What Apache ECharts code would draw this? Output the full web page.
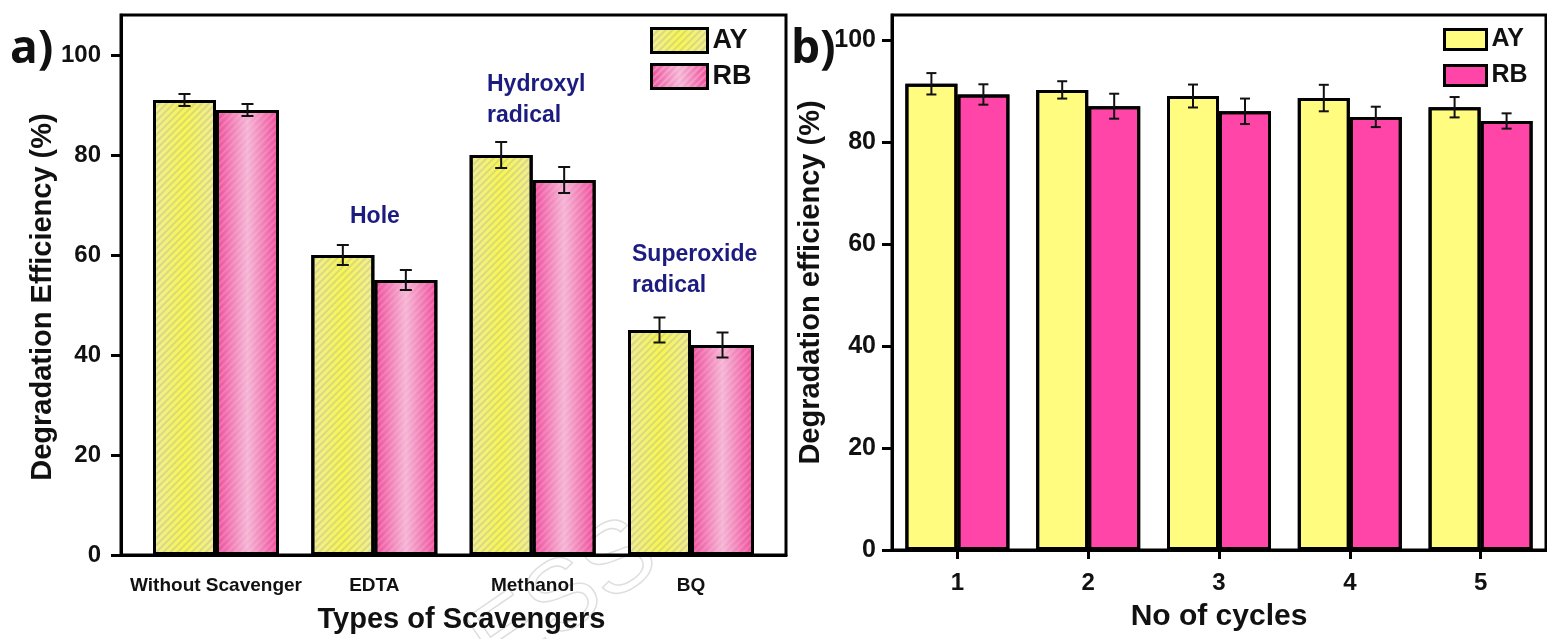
<!DOCTYPE html>
<html>
<head>
<meta charset="utf-8">
<script src="https://cdn.jsdelivr.net/npm/echarts@6/dist/echarts.min.js"></script>
<style>
  html, body {margin: 0; padding: 0; background: #fff;}
  #main {width: 1547px; height: 639px;}
</style>
</head>
<body>
<div id="main"></div>
<script>
// panel a: scavengers
const scavengers = ['Without Scavenger', 'EDTA', 'Methanol', 'BQ'];
const scavPos = [1, 2, 3, 4];
const ayScav = [91, 60, 80, 45];
const ayScavErr = [1.2, 2, 2.6, 2.5];
const rbScav = [89, 55, 75, 42];
const rbScavErr = [1.2, 2, 2.6, 2.5];
// panel b: cycles
const cycles = ['1', '2', '3', '4', '5'];
const ayCycle = [91.5, 90.3, 89.1, 88.7, 86.9];
const ayCycleErr = [2.1, 1.7, 2.25, 2.6, 2.0];
const rbCycle = [89.4, 87.1, 86.1, 85.0, 84.2];
const rbCycleErr = [2.0, 2.45, 2.5, 2.0, 1.5];
const yTicks = [0, 20, 40, 60, 80, 100];

const FONT = 'Liberation Sans';

const ayFillA = {
  type: 'linear', x: 0, y: 0, x2: 1, y2: 0,
  colorStops: [
    {offset: 0, color: '#f1ee96'},
    {offset: 0.5, color: '#f8f650'},
    {offset: 1, color: '#f1ee96'}
  ]
};
const rbFillA = {
  type: 'linear', x: 0, y: 0, x2: 1, y2: 0,
  colorStops: [
    {offset: 0, color: '#ee4a9a'},
    {offset: 0.5, color: '#f5b4d4'},
    {offset: 1, color: '#ee4a9a'}
  ]
};
const ayDecal = {
  symbol: 'rect', dashArrayX: [1, 0], dashArrayY: [2, 3],
  rotation: -Math.PI / 4, color: 'rgba(170,170,150,0.35)'
};
const rbDecal = {
  symbol: 'rect', dashArrayX: [1, 0], dashArrayY: [2, 3],
  rotation: -Math.PI / 4, color: 'rgba(255,230,240,0.3)'
};
const noDecal = {symbol: 'rect', color: 'rgba(0,0,0,0)'};
const ayFillB = '#fffc7f';
const rbFillB = '#ff46a8';

function errRender(offset, cap) {
  return function (params, api) {
    const x = api.value(0), v = api.value(1), e = api.value(2);
    const t = api.coord([x, v + e]);
    const b = api.coord([x, v - e]);
    const cx = t[0] + offset;
    const st = {stroke: '#111', lineWidth: 2};
    return {
      type: 'group',
      children: [
        {type: 'line', shape: {x1: cx, y1: t[1], x2: cx, y2: b[1]}, style: st},
        {type: 'line', shape: {x1: cx - cap, y1: t[1], x2: cx + cap, y2: t[1]}, style: st},
        {type: 'line', shape: {x1: cx - cap, y1: b[1], x2: cx + cap, y2: b[1]}, style: st}
      ]
    };
  };
}

const axisLine = {show: true, lineStyle: {color: '#000', width: 3}};
const tickStyle = {show: true, inside: false, length: 10, lineStyle: {color: '#000', width: 3}};
const nameStyle = {fontFamily: FONT, fontWeight: 'bold', fontSize: 29, color: '#111'};
const annot = 'bold 23px "Liberation Sans"';

const chart = echarts.init(document.getElementById('main'));
chart.setOption({
  backgroundColor: '#fff',
  animation: false,
  aria: {enabled: true, decal: {show: true}},
  grid: [
    {left: 121, right: 761, top: 15, bottom: 82, show: true, borderColor: '#000', borderWidth: 3},
    {left: 892, right: 1, top: 15, bottom: 89, show: true, borderColor: '#000', borderWidth: 3}
  ],
  xAxis: [
    {
      type: 'value', gridIndex: 0, min: 0.4, max: 4.6,
      name: 'Types of Scavengers', nameLocation: 'middle', nameGap: 50,
      nameTextStyle: Object.assign({padding: [0, 0, 0, 16]}, nameStyle),
      axisLine: axisLine, axisTick: {show: false}, splitLine: {show: false},
      axisLabel: {
        customValues: scavPos, margin: 21,
        fontFamily: FONT, fontWeight: 'bold', fontSize: 19, color: '#111',
        formatter: v => scavengers[Math.round(v) - 1] || ''
      }
    },
    {
      type: 'category', gridIndex: 1, data: cycles,
      name: 'No of cycles', nameLocation: 'middle', nameGap: 52,
      nameTextStyle: Object.assign({}, nameStyle, {fontSize: 30}),
      axisLine: axisLine,
      axisTick: {show: true, alignWithLabel: true, length: 9, lineStyle: {color: '#000', width: 3}},
      axisLabel: {margin: 21, fontFamily: FONT, fontWeight: 'bold', fontSize: 24, color: '#111'}
    }
  ],
  yAxis: [
    {
      type: 'value', gridIndex: 0, min: 0, max: 108,
      name: 'Degradation Efficiency (%)', nameLocation: 'middle', nameGap: 57,
      nameTextStyle: Object.assign({padding: [0, 24, 0, 0]}, nameStyle),
      axisLine: axisLine, axisTick: Object.assign({customValues: yTicks}, tickStyle),
      splitLine: {show: false},
      axisLabel: {customValues: yTicks, margin: 20, fontFamily: FONT, fontWeight: 'bold', fontSize: 24, color: '#111'}
    },
    {
      type: 'value', gridIndex: 1, min: 0, max: 105,
      name: 'Degradation efficiency (%)', nameLocation: 'middle', nameGap: 67,
      nameTextStyle: nameStyle,
      axisLine: axisLine, axisTick: Object.assign({customValues: yTicks}, tickStyle),
      splitLine: {show: false},
      axisLabel: {customValues: yTicks, margin: 16, fontFamily: FONT, fontWeight: 'bold', fontSize: 25, color: '#111'}
    }
  ],
  legend: [
    {
      orient: 'vertical', left: 650, top: 27, padding: 0,
      itemWidth: 56, itemHeight: 24, itemGap: 9, icon: 'rect',
      textStyle: {fontFamily: FONT, fontWeight: 'bold', fontSize: 27, color: '#111', lineHeight: 26},
      data: [
        {name: 'AY', itemStyle: {color: ayFillA, decal: ayDecal, borderColor: '#000', borderWidth: 3}},
        {name: 'RB', itemStyle: {color: rbFillA, decal: rbDecal, borderColor: '#000', borderWidth: 3}}
      ]
    },
    {
      orient: 'vertical', left: 1443, top: 27, padding: 0,
      itemWidth: 42, itemHeight: 20, itemGap: 11, icon: 'rect',
      textStyle: {fontFamily: FONT, fontWeight: 'bold', fontSize: 25, color: '#111', lineHeight: 24},
      data: [
        {name: 'AY', itemStyle: {color: ayFillB, decal: noDecal, borderColor: '#000', borderWidth: 3}},
        {name: 'RB', itemStyle: {color: rbFillB, decal: noDecal, borderColor: '#000', borderWidth: 3}}
      ]
    }
  ],
  graphic: [
    {type: 'text', left: 10, top: 27, style: {text: 'a)', font: 'bold 46px "Open Sans"', fill: '#111'}},
    {type: 'text', left: 791, top: 27, style: {text: 'b)', font: 'bold 46px "Open Sans"', fill: '#111'}},
    {type: 'text', left: 350, top: 201, style: {text: 'Hole', font: annot, lineHeight: 31, fill: '#1c1c80'}},
    {type: 'text', left: 487, top: 69, style: {text: 'Hydroxyl\nradical', font: annot, lineHeight: 31, fill: '#1c1c80'}},
    {type: 'text', left: 632, top: 239, style: {text: 'Superoxide\nradical', font: annot, lineHeight: 31, fill: '#1c1c80'}},
    {type: 'text', x: 565, y: 600, rotation: 0.6, z: -1,
      style: {text: 'ESS', font: '100px "Liberation Sans"', fill: 'none', stroke: '#dedede', lineWidth: 1.5, align: 'center', verticalAlign: 'middle'}}
  ],
  series: [
    {
      name: 'AY', type: 'bar', xAxisIndex: 0, yAxisIndex: 0, barWidth: 63, barGap: '0%',
      itemStyle: {color: ayFillA, decal: ayDecal, borderColor: '#000', borderWidth: 3},
      data: scavPos.map((x, i) => [x, ayScav[i]])
    },
    {
      name: 'RB', type: 'bar', xAxisIndex: 0, yAxisIndex: 0, barWidth: 63, barGap: '0%',
      itemStyle: {color: rbFillA, decal: rbDecal, borderColor: '#000', borderWidth: 3},
      data: scavPos.map((x, i) => [x, rbScav[i]])
    },
    {
      type: 'custom', xAxisIndex: 0, yAxisIndex: 0, z: 5, renderItem: errRender(-31.5, 6),
      data: scavPos.map((x, i) => [x, ayScav[i], ayScavErr[i]])
    },
    {
      type: 'custom', xAxisIndex: 0, yAxisIndex: 0, z: 5, renderItem: errRender(31.5, 6),
      data: scavPos.map((x, i) => [x, rbScav[i], rbScavErr[i]])
    },
    {
      name: 'AY', type: 'bar', xAxisIndex: 1, yAxisIndex: 1, barWidth: 52, barGap: '0%',
      itemStyle: {color: ayFillB, decal: noDecal, borderColor: '#000', borderWidth: 3},
      data: ayCycle
    },
    {
      name: 'RB', type: 'bar', xAxisIndex: 1, yAxisIndex: 1, barWidth: 52, barGap: '0%',
      itemStyle: {color: rbFillB, decal: noDecal, borderColor: '#000', borderWidth: 3},
      data: rbCycle
    },
    {
      type: 'custom', xAxisIndex: 1, yAxisIndex: 1, z: 5, renderItem: errRender(-26, 5),
      data: cycles.map((c, i) => [i, ayCycle[i], ayCycleErr[i]])
    },
    {
      type: 'custom', xAxisIndex: 1, yAxisIndex: 1, z: 5, renderItem: errRender(26, 5),
      data: cycles.map((c, i) => [i, rbCycle[i], rbCycleErr[i]])
    }
  ]
});
</script>
</body>
</html>
